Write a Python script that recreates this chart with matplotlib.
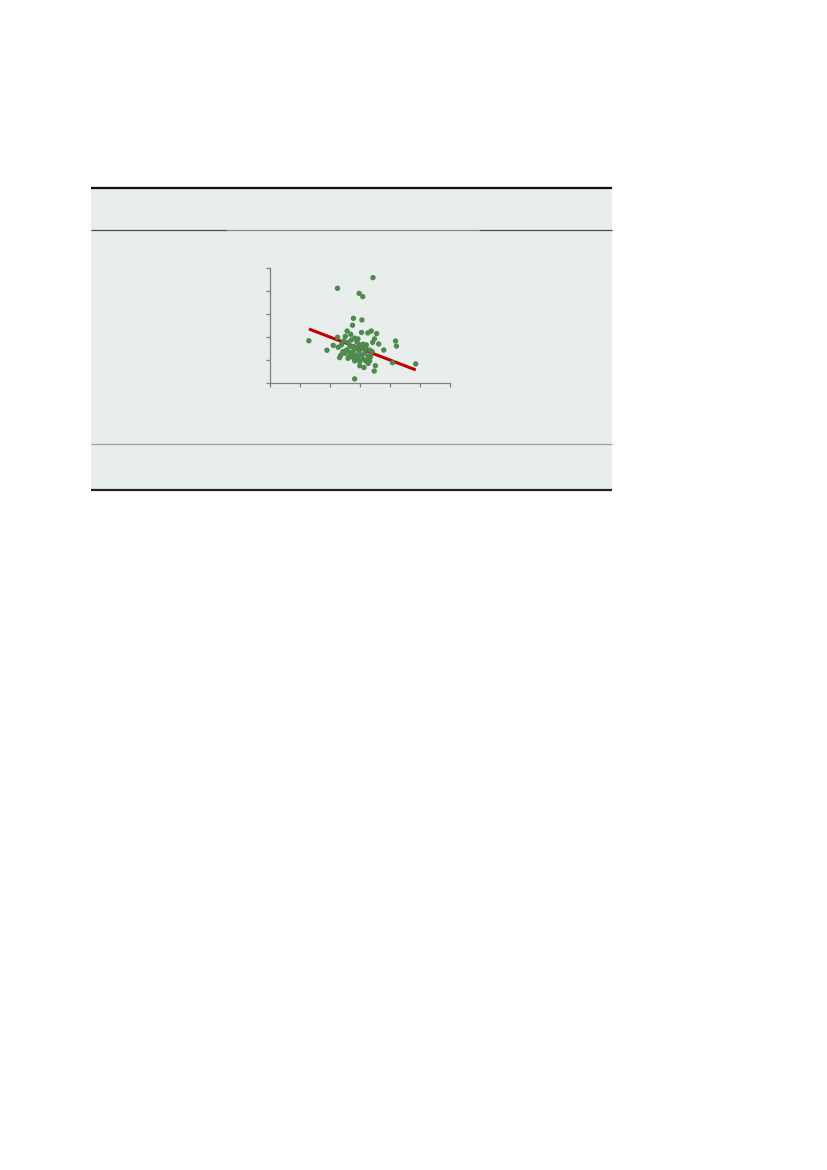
import numpy as np
import matplotlib
matplotlib.use('Agg')
import matplotlib.pyplot as plt
from matplotlib.lines import Line2D
from matplotlib.patches import Rectangle

# scatter values (x on 0-6 scale, y on 0-5 scale)
pts_x = [3.44, 2.26, 2.98, 3.10, 2.79, 3.07, 2.76, 2.58, 3.06, 3.27,
         3.38, 3.56, 1.31, 2.26, 2.70, 2.52, 4.19, 4.22, 3.49, 3.43,
         3.63, 3.80, 1.91, 2.12, 2.28, 2.33, 2.37, 4.09, 4.86, 3.52,
         3.14, 3.00, 3.48, 2.83, 2.94, 2.83, 2.47, 2.61, 2.67, 2.56,
         2.50, 2.61, 2.72, 2.78, 2.89, 3.00, 3.11, 3.20, 3.17, 3.06,
         2.94, 2.83, 3.11, 3.28, 3.33, 3.28, 2.89, 2.78, 2.98, 2.67,
         3.41, 3.36, 2.39, 2.72, 3.09, 2.91, 3.22, 2.44, 2.80, 3.00,
         3.20, 2.64, 3.33]
pts_y = [4.57, 4.11, 3.89, 3.75, 2.81, 2.74, 2.51, 2.26, 2.20, 2.18,
         2.26, 2.15, 1.84, 1.99, 2.12, 2.03, 1.83, 1.61, 1.92, 1.77,
         1.70, 1.44, 1.43, 1.64, 1.56, 1.11, 1.22, 0.89, 0.84, 0.76,
         0.68, 0.76, 0.53, 0.19, 1.92, 1.95, 1.83, 1.77, 1.59, 1.44,
         1.30, 1.08, 1.22, 1.37, 1.51, 1.66, 1.69, 1.51, 1.30, 1.22,
         1.08, 0.97, 1.05, 1.15, 0.97, 0.86, 1.22, 1.59, 1.40, 1.34,
         1.37, 1.15, 1.66, 1.87, 1.51, 1.77, 1.66, 1.37, 1.08, 0.94,
         0.97, 1.15, 1.44]

# trend line end points
fit_x = [1.31, 4.86]
fit_y = [2.35, 0.58]

x_ticks = [0, 1, 2, 3, 4, 5, 6]
y_ticks = [0, 1, 2, 3, 4, 5]

W, H = 827, 1170
fig = plt.figure(figsize=(W / 100, H / 100), dpi=100)
fig.patch.set_facecolor('white')

bg = '#e8eeeb'
px = lambda v: v / W
py = lambda v: 1 - v / H

# panel background
fig.patches.append(Rectangle((px(91), py(490)), px(612) - px(91), py(187) - py(490),
                             transform=fig.transFigure, facecolor=bg, edgecolor='none', zorder=-5))

def hline(x0, x1, y, color, lw):
    fig.lines.append(Line2D([px(x0), px(x1)], [py(y), py(y)], transform=fig.transFigure,
                            color=color, lw=lw, solid_capstyle='butt', zorder=2))

hline(91, 612, 187.5, '#111111', 1.6)
hline(91, 227, 230, '#4a4a4a', 0.9)
hline(227, 479, 230, '#8a8a8a', 0.9)
hline(479, 612, 230, '#4a4a4a', 0.9)
hline(91, 612, 444, '#a0a0a0', 0.9)
hline(91, 612, 490, '#222222', 1.6)

# scatter chart
ax = fig.add_axes([px(269.5), py(383.3), px(450) - px(269.5), py(267.7) - py(383.3)])
ax.set_zorder(1)
ax.set_facecolor('none')
ax.plot(fit_x, fit_y, color='#c00000', lw=2.2, solid_capstyle='butt', zorder=2)
ax.scatter(pts_x, pts_y, s=15, color='#4e8a4e', edgecolors='none', zorder=3, clip_on=False)
ax.set_xlim(0, 6)
ax.set_ylim(0, 5)
ax.set_xticks(x_ticks)
ax.set_yticks(y_ticks)
ax.set_xticklabels([])
ax.set_yticklabels([])
for s in ['top', 'right']:
    ax.spines[s].set_visible(False)
for s in ['left', 'bottom']:
    ax.spines[s].set_color('#808080')
    ax.spines[s].set_linewidth(0.9)
ax.tick_params(direction='out', length=3, width=0.9, color='#808080')

fig.savefig('out.png', dpi=100)
